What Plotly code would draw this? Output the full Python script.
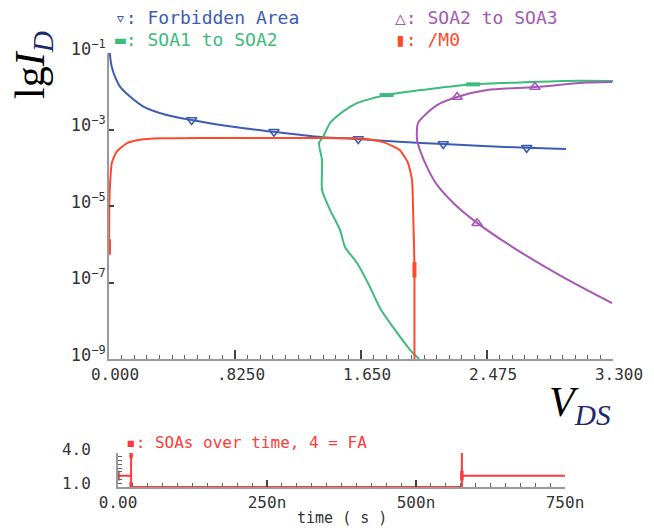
import plotly.graph_objects as go

# ---------------- data ----------------
# V_DS in volts, lg(I_D) values (decades)
fa_v   = [0.005, 0.010, 0.018, 0.039, 0.072, 0.1375, 0.225, 0.378, 0.541, 0.812, 1.080, 1.25, 1.40, 1.632, 1.90, 2.189, 2.45, 2.735, 2.992]
fa_lg  = [-1.00, -1.18, -1.36, -1.62, -1.88, -2.14, -2.40, -2.62, -2.75, -2.93, -3.06, -3.14, -3.20, -3.25, -3.32, -3.38, -3.43, -3.48, -3.51]
fa_mk_v  = [0.541, 1.080, 1.632, 2.189, 2.735]
fa_mk_lg = [-2.75, -3.06, -3.25, -3.38, -3.48]

s12_v  = [3.300, 2.973, 2.757, 2.383, 2.102, 1.886, 1.820, 1.729, 1.624, 1.578, 1.513, 1.447, 1.401, 1.375, 1.395, 1.395, 1.447, 1.513, 1.545, 1.624, 1.709, 1.775, 1.873, 1.971, 2.030]
s12_lg = [-1.73, -1.73, -1.76, -1.82, -1.94, -2.05, -2.10, -2.18, -2.31, -2.41, -2.59, -2.83, -3.20, -3.35, -3.80, -4.58, -5.10, -5.63, -6.07, -6.49, -7.12, -7.67, -8.24, -8.76, -9.00]
s12_mk_v  = [2.383, 1.818]
s12_mk_lg = [-1.82, -2.10]

s23_v  = [3.294, 3.104, 2.789, 2.475, 2.279, 2.148, 2.056, 2.023, 2.017, 2.036, 2.090, 2.148, 2.270, 2.410, 2.645, 2.973, 3.294]
s23_lg = [-1.76, -1.78, -1.89, -1.97, -2.15, -2.36, -2.67, -2.83, -3.27, -3.54, -4.05, -4.45, -4.98, -5.44, -6.08, -6.86, -7.54]
s23_mk_v  = [2.789, 2.279, 2.410]
s23_mk_lg = [-1.89, -2.15, -5.45]

m0_v  = [0.000, 0.002, 0.006, 0.018, 0.050, 0.116, 0.203, 0.334, 0.600, 1.000, 1.400, 1.600, 1.709, 1.794, 1.850, 1.905, 1.958, 1.984, 1.991, 1.997, 2.000, 2.000]
m0_lg = [-6.25, -5.00, -4.50, -3.88, -3.58, -3.36, -3.27, -3.23, -3.22, -3.22, -3.22, -3.23, -3.26, -3.33, -3.42, -3.54, -3.88, -4.32, -5.10, -6.00, -6.67, -9.30]
m0_mk_v  = [0.000, 2.000]
m0_mk_lg = [-6.07, -6.67]

# SOA state over time
t_ns   = [0, 22, 22, 22, 577, 577, 577, 750]
soa    = [2, 2, 4, 1, 1, 4, 2, 2]
t_mk   = [0, 22, 22, 577]
soa_mk = [2, 4, 1, 2]

x_ticks = [0.0, 0.825, 1.65, 2.475, 3.3]
x_ticktext = ["0.000", ".8250", "1.650", "2.475", "3.300"]
y_ticks_exp = [-1, -3, -5, -7, -9]
t_ticks = [0, 250, 500, 750]
t_ticktext = ["0.00", "250n", "500n", "750n"]

# ---------------- style ----------------
BLUE = "#3d5cb4"
GREEN = "#3dbb7c"
PURPLE = "#a558b4"
RED = "#ff4a2a"
RED2 = "#ff3a3a"
AXIS = "#9a9a9a"
MONO = "DejaVu Sans Mono"
TICKF = dict(family=MONO, size=16, color="#333333")

# page body has an 8px margin: figure is 646x522, placed at (8, 8)
OFF = 8
W, H = 654 - OFF, 530 - OFF
def X(px):
    return (px - OFF) / W
def Y(py):
    return 1 - (py - OFF) / H

def p(lg):
    return [10 ** v for v in lg]

fig = go.Figure()

fig.add_trace(go.Scatter(x=fa_v, y=p(fa_lg), mode="lines",
                         line=dict(color=BLUE, width=2, shape="spline", smoothing=0.8)))
fig.add_trace(go.Scatter(x=fa_mk_v, y=p(fa_mk_lg), mode="markers",
                         marker=dict(symbol="triangle-down-open", size=9, color=BLUE, line=dict(width=1.6, color=BLUE))))
fig.add_trace(go.Scatter(x=s12_v, y=p(s12_lg), mode="lines",
                         line=dict(color=GREEN, width=2, shape="spline", smoothing=0.6)))
fig.add_trace(go.Scatter(x=s12_mk_v, y=p(s12_mk_lg), mode="markers",
                         marker=dict(symbol="line-ew", size=10, color=GREEN, line=dict(width=4, color=GREEN))))
fig.add_trace(go.Scatter(x=s23_v, y=p(s23_lg), mode="lines",
                         line=dict(color=PURPLE, width=2, shape="spline", smoothing=0.8)))
fig.add_trace(go.Scatter(x=s23_mk_v, y=p(s23_mk_lg), mode="markers",
                         marker=dict(symbol="triangle-up-open", size=9, color=PURPLE, line=dict(width=1.6, color=PURPLE))))
fig.add_trace(go.Scatter(x=m0_v, y=p(m0_lg), mode="lines",
                         line=dict(color=RED, width=2, shape="spline", smoothing=0.5)))
fig.add_trace(go.Scatter(x=m0_mk_v, y=p(m0_mk_lg), mode="markers",
                         marker=dict(symbol="line-ns", size=11, color=RED, line=dict(width=4, color=RED))))

t_s = [v * 1e-9 for v in t_ns]
t_mk_s = [v * 1e-9 for v in t_mk]
fig.add_trace(go.Scatter(x=t_s, y=soa, mode="lines", line=dict(color=RED2, width=2),
                         xaxis="x2", yaxis="y2"))
fig.add_trace(go.Scatter(x=t_mk_s, y=soa_mk, mode="markers", xaxis="x2", yaxis="y2",
                         marker=dict(symbol="line-ns", size=7, color=RED2, line=dict(width=3.5, color=RED2))))

ytext = ["10<sup>\u2212%d</sup>" % (-e) for e in y_ticks_exp]

fig.update_layout(
    template="none",
    width=W, height=H, autosize=False,
    margin=dict(l=0, r=0, t=0, b=0, pad=0),
    paper_bgcolor="white", plot_bgcolor="white",
    showlegend=False,
    xaxis=dict(domain=[X(109), X(613)], range=[0, 3.3], anchor="y", automargin=False,
               showgrid=False, zeroline=False, showline=True, linecolor=AXIS, linewidth=2,
               tickmode="array", tickvals=x_ticks, ticktext=x_ticktext,
               ticks="inside", ticklen=9, tickwidth=1.5, tickcolor="#444",
               minor=dict(dtick=0.0825, ticks="inside", ticklen=4, tickcolor="#666", tickwidth=1, showgrid=False),
               tickfont=TICKF, ticklabelshift=6),
    yaxis=dict(domain=[Y(359), Y(53)], type="log", range=[-9, -1], anchor="x", automargin=False,
               showgrid=False, zeroline=False, showline=True, linecolor=AXIS, linewidth=2,
               tickmode="array", tickvals=[10 ** e for e in y_ticks_exp], ticktext=ytext,
               ticks="inside", ticklen=5, tickwidth=1.5, tickcolor="#444",
               tickfont=dict(family=MONO, size=17, color="#333333"),
               ticklabelshift=-4, ticklabelstandoff=-2),
    xaxis2=dict(domain=[X(118), X(565)], range=[0, 750e-9], anchor="y2", automargin=False,
                showgrid=False, zeroline=False, showline=True, linecolor=AXIS, linewidth=2,
                tickmode="array", tickvals=[v * 1e-9 for v in t_ticks], ticktext=t_ticktext,
                ticks="inside", ticklen=7, tickwidth=1.5, tickcolor="#444",
                minor=dict(dtick=25e-9, ticks="inside", ticklen=4, tickcolor="#666", tickwidth=1, showgrid=False),
                tickfont=dict(family=MONO, size=16, color="#333333")),
    yaxis2=dict(domain=[Y(487), Y(453)], range=[1, 4], anchor="x2", automargin=False,
                showgrid=False, zeroline=False, showline=True, linecolor=AXIS, linewidth=2,
                tickmode="array", tickvals=[1, 4], ticktext=["1.0", "4.0"],
                ticks="inside", ticklen=5, tickwidth=1, tickcolor="#666",
                minor=dict(dtick=1/3, ticks="inside", ticklen=4, tickcolor="#666", tickwidth=1, showgrid=False),
                tickfont=dict(family=MONO, size=16, color="#333333"),
                ticklabelshift=-4, ticklabelstandoff=22),
)

def leg(text, x, y, color, size=18):
    fig.add_annotation(text=text, xref="paper", yref="paper", x=X(x), y=Y(y),
                       xanchor="left", yanchor="middle", showarrow=False,
                       font=dict(family=MONO, size=size, color=color))

leg("\u25bf: Forbidden Area", 113, 17, BLUE)
leg("\u25ac: SOA1 to SOA2", 113, 40, GREEN)
leg("\u25b3: SOA2 to SOA3", 393, 17, PURPLE)
leg("\u25ae: /M0", 393, 40, RED)
leg("\u25aa: SOAs over time, 4 = FA", 124, 442, RED2, size=16)

fig.add_annotation(text="time ( s )", xref="paper", yref="paper", x=X(342), y=Y(518),
                   xanchor="center", yanchor="middle", showarrow=False,
                   font=dict(family=MONO, size=15, color="#333333"))

fig.add_annotation(text="lg<i>I</i><sub><i><span style='color:#1c2b6a'>D</span></i></sub>",
                   xref="paper", yref="paper", x=X(33), y=Y(65), textangle=-90,
                   xanchor="center", yanchor="middle", showarrow=False,
                   font=dict(family="Liberation Serif", size=42, color="black"))
fig.add_annotation(text="<i>V</i><sub><i><span style='color:#1c2b6a'>DS</span></i></sub>",
                   xref="paper", yref="paper", x=X(580), y=Y(405),
                   xanchor="center", yanchor="middle", showarrow=False,
                   font=dict(family="Liberation Serif", size=42, color="black"))

fig.write_html("out.html")
